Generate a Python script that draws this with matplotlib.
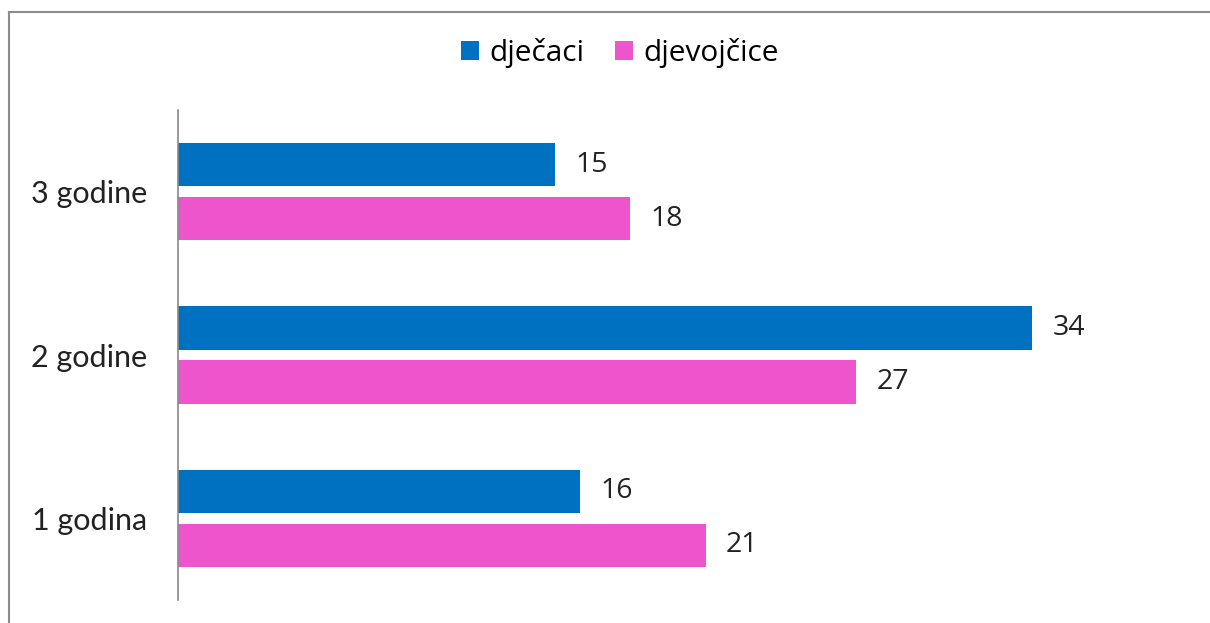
import matplotlib.pyplot as plt
from matplotlib.lines import Line2D
import numpy as np

categories = ['1 godina', '2 godine', '3 godine']
djecaci = [16, 34, 15]
djevojcice = [21, 27, 18]

W, H = 1210, 623
fig = plt.figure(figsize=(W / 100, H / 100), dpi=100)
ax = fig.add_axes([178 / W, (H - 600) / H, (1183 - 178) / W, (600 - 110) / H])

y = np.arange(len(categories))
bh = 0.264
off = 0.165
ax.barh(y + off, djecaci, height=bh, color='#0070C0', label='dječaci')
ax.barh(y - off, djevojcice, height=bh, color='#EE55CC', label='djevojčice')

for yi, v in zip(y, djecaci):
    ax.text(v + 0.8, yi + off, str(v), va='center', ha='left', fontsize=20.5,
            family='Open Sans', color='#222222')
for yi, v in zip(y, djevojcice):
    ax.text(v + 0.8, yi - off, str(v), va='center', ha='left', fontsize=20.5,
            family='Open Sans', color='#222222')

ax.set_xlim(0, 40)
ax.set_ylim(-0.5, 2.5)
ax.set_yticks(y)
ax.set_yticklabels(categories, fontsize=22, family='Lato', color='#222222')
ax.tick_params(axis='y', length=0, pad=22)
ax.set_xticks([])
for s in ['top', 'right', 'bottom']:
    ax.spines[s].set_visible(False)
ax.spines['left'].set_color('#888888')
ax.spines['left'].set_linewidth(1.2)

fig.legend(loc='center', bbox_to_anchor=(620 / W, 1 - 53 / H), ncol=2, frameon=False,
           prop={'family': 'Open Sans', 'size': 21.5}, handlelength=0.6, handleheight=0.6,
           handletextpad=0.35, columnspacing=1.0)

# partial frame around the chart area
fig.add_artist(Line2D([8.5 / W, 1], [1 - 11.5 / H, 1 - 11.5 / H], color='#8c8c8c', lw=1.5))
fig.add_artist(Line2D([8.5 / W, 8.5 / W], [0, 1 - 11.5 / H], color='#8c8c8c', lw=1.5))

fig.savefig('out.png', dpi=100)
